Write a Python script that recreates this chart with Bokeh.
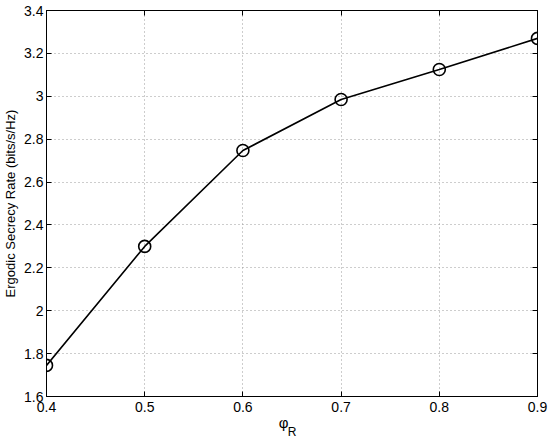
from bokeh.plotting import figure
from bokeh.models import LinearAxis, Range1d, FixedTicker
from bokeh.embed import file_html
from bokeh.resources import INLINE

phi_r = [0.4, 0.5, 0.6, 0.7, 0.8, 0.9]
rate = [1.745, 2.30, 2.747, 2.985, 3.125, 3.27]
x_ticks = [0.4, 0.5, 0.6, 0.7, 0.8, 0.9]
x_tick_labels = ["0.4", "0.5", "0.6", "0.7", "0.8", "0.9"]
y_ticks = [1.6, 1.8, 2.0, 2.2, 2.4, 2.6, 2.8, 3.0, 3.2, 3.4]
y_tick_labels = ["1.6", "1.8", "2", "2.2", "2.4", "2.6", "2.8", "3", "3.2", "3.4"]

FONT = "Liberation Sans"

p = figure(width=554, height=441, output_backend="svg", toolbar_location=None,
           x_range=Range1d(0.4, 0.9), y_range=Range1d(1.6, 3.4),
           min_border_left=45, min_border_right=17, min_border_top=10, min_border_bottom=45)
p.outline_line_color = "black"
p.background_fill_color = "white"

def style_axis(ax, ticks, labels, show_labels, standoff=3):
    ax.ticker = FixedTicker(ticks=ticks)
    ax.major_tick_in = 5
    ax.major_tick_out = 0
    ax.minor_tick_in = 0
    ax.minor_tick_out = 0
    ax.axis_line_color = "black"
    ax.axis_line_width = 1
    ax.major_tick_line_color = "black"
    if show_labels:
        ax.major_label_overrides = {t: l for t, l in zip(ticks, labels)}
        ax.major_label_text_font = FONT
        ax.major_label_text_font_size = "14px"
        ax.major_label_text_color = "black"
        ax.major_label_standoff = standoff
    else:
        ax.major_label_overrides = {t: "" for t in ticks}
        ax.major_label_text_font_size = "0px"
        ax.major_label_standoff = 0

style_axis(p.xaxis[0], x_ticks, x_tick_labels, True, standoff=5)
style_axis(p.yaxis[0], y_ticks, y_tick_labels, True, standoff=3)

xa = p.xaxis[0]
xa.axis_label = "φ" + "\u00a0" * 4
xa.axis_label_text_font = FONT
xa.axis_label_text_font_size = "15px"
xa.axis_label_text_font_style = "normal"
xa.axis_label_text_color = "black"
xa.axis_label_standoff = -1

ya = p.yaxis[0]
ya.axis_label = "Ergodic Secrecy Rate (bits/s/Hz)"
ya.axis_label_text_font = FONT
ya.axis_label_text_font_size = "13px"
ya.axis_label_text_font_style = "normal"
ya.axis_label_text_color = "black"
ya.axis_label_standoff = 3

# subscript "R" of the x label, on a bare axis below
sub = LinearAxis(axis_line_color=None, major_tick_line_color=None, minor_tick_line_color=None,
                 major_tick_in=0, major_tick_out=0, minor_tick_in=0, minor_tick_out=0,
                 major_label_text_font_size="0px", major_label_standoff=0)
sub.ticker = FixedTicker(ticks=[])
sub.axis_label = "R"
sub.axis_label_text_font = FONT
sub.axis_label_text_font_size = "12px"
sub.axis_label_text_font_style = "normal"
sub.axis_label_text_color = "black"
sub.axis_label_standoff = -9
p.add_layout(sub, "below")

top = LinearAxis()
style_axis(top, x_ticks, x_tick_labels, False)
p.add_layout(top, "above")
right = LinearAxis()
style_axis(right, y_ticks, y_tick_labels, False)
p.add_layout(right, "right")

p.xgrid[0].ticker = FixedTicker(ticks=x_ticks)
p.ygrid[0].ticker = FixedTicker(ticks=y_ticks)
for g in (p.xgrid[0], p.ygrid[0]):
    g.grid_line_color = "#9a9a9a"
    g.grid_line_dash = "1 3"
    g.grid_line_width = 1

p.line(phi_r, rate, line_color="black", line_width=1.6)
p.scatter(phi_r, rate, marker="circle", size=12, fill_alpha=0, line_color="black", line_width=1.6)

open("out.html", "w").write(file_html(p, INLINE))
